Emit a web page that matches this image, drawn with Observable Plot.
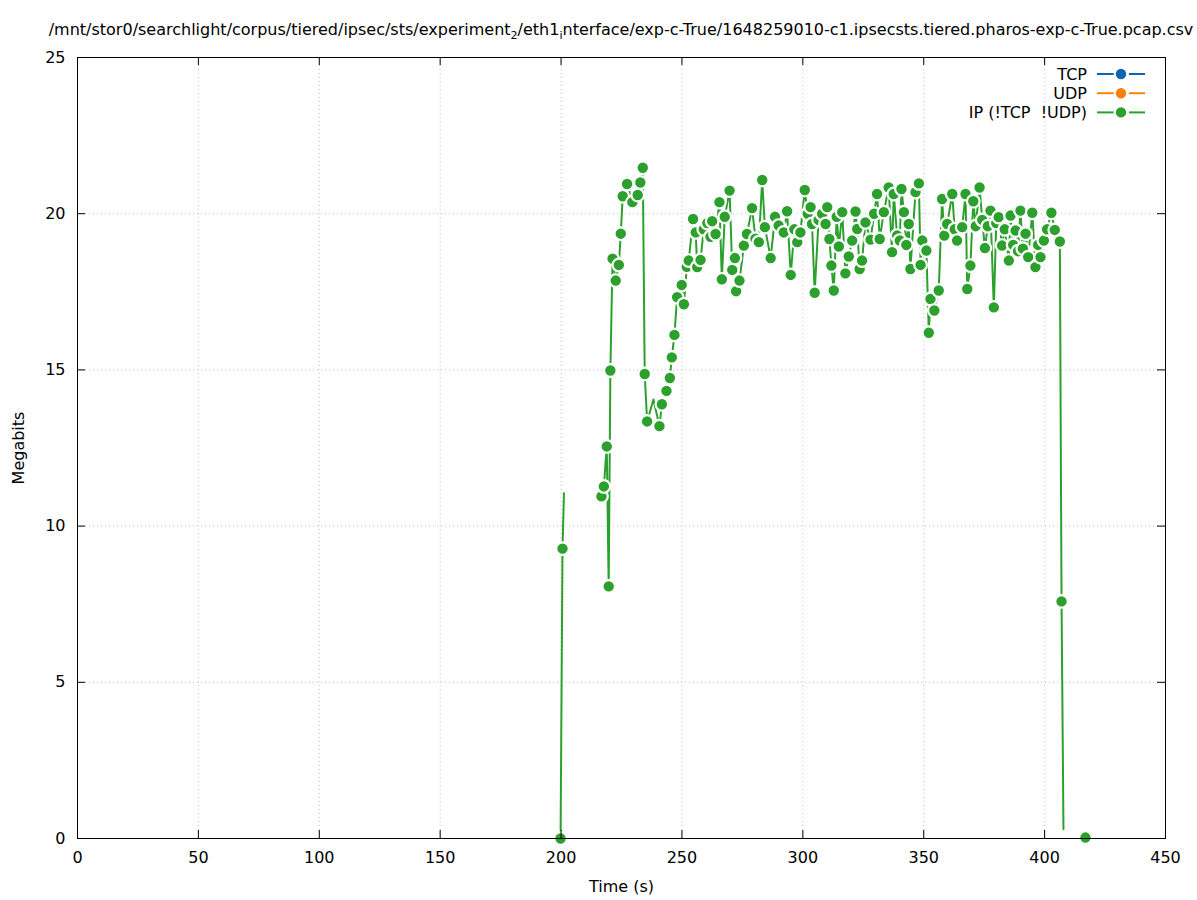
<!DOCTYPE html>
<html>
<head>
<meta charset="utf-8">
<script src="https://cdn.jsdelivr.net/npm/d3@7"></script>
<script src="https://cdn.jsdelivr.net/npm/@observablehq/plot@0.6"></script>
<style>
  html, body { margin: 0; padding: 0; background: #fff; }
  body { width: 1197px; height: 900px; position: relative; overflow: hidden; font-family: "DejaVu Sans", sans-serif; }
  #title { position: absolute; left: 621px; top: 20px; transform: translateX(-50%); white-space: nowrap; font-size: 16px; line-height: 20px; color: #000; }
  #title sub { font-size: 11px; vertical-align: -4px; line-height: 0; }
  #chart { position: absolute; left: 0; top: 47px; }
</style>
</head>
<body>
<div id="title">/mnt/stor0/searchlight/corpus/tiered/ipsec/sts/experiment<sub>2</sub>/eth1<sub>i</sub>nterface/exp-c-True/1648259010-c1.ipsecsts.tiered.pharos-exp-c-True.pcap.csv</div>
<div id="chart"></div>
<script>
// ---- data ----
const xTicks = [0, 50, 100, 150, 200, 250, 300, 350, 400, 450];
const yTicks = [0, 5, 10, 15, 20, 25];
const seriesNames = ["TCP", "UDP", "IP (!TCP  !UDP)"];
const seriesColors = ["#0c64b4", "#ff7f0e", "#2ca02c"];

// IP (!TCP !UDP) series: time (s) and megabits; null marks a gap in the line
const time = [
  199.8, 200.6, 201.2, 208,
  216.7, 217.7, 218.9, 219.7, 220.4, 221.3, 222.6, 223.9, 224.7, 225.5, 227.3, 229.5, 231.7, 232.8, 233.8,
  234.6, 235.6, 238.2, 240.7, 241.7, 243.6, 245.0, 245.8, 246.9, 248.0, 249.9, 250.8, 252.0, 252.8,
  254.6, 255.7, 256.3, 257.7, 259.0, 260.5, 261.8, 262.5, 263.9, 265.5, 266.5, 267.7, 269.7, 270.8,
  271.9, 272.4, 273.8, 275.6, 276.9, 279.0, 280.4, 281.8, 283.2, 284.3, 286.7, 288.5, 290.0, 292.1,
  293.5, 295.0, 296.5, 297.7, 299.0, 300.8, 302.0, 303.2, 303.8, 304.9, 306.5, 308.0, 309.4, 310.1,
  311.0, 311.8, 312.8, 314.0, 314.9, 316.3, 317.6, 319.0, 320.4, 321.8, 322.5, 323.5, 324.5, 325.9,
  328.0, 329.5, 330.7, 331.8, 333.5, 335.5, 336.9, 337.6, 339.0, 340.1, 340.8, 341.8, 342.8, 343.8,
  344.5, 346.6, 348.0, 348.7, 349.4, 351.1, 352.1, 352.8, 354.4, 356.2, 357.6, 358.5, 359.7, 361.8,
  362.8, 363.8, 365.9, 367.3, 368.0, 369.3, 370.5, 371.5, 373.1, 374.2, 375.3, 376.5, 377.6, 379.0,
  380.0, 381.0, 382.4, 383.5, 385.2, 385.9, 387.0, 388.0, 389.0, 390.0, 391.0, 392.1, 393.2, 394.9,
  396.2, 397.3, 398.3, 399.7, 401.0, 402.8, 404.2, 406.3, 407.0, 407.8, 412,
  416.9
];
const mbits = [
  0, 9.28, 11.05, null,
  10.95, 11.27, 12.55, 8.07, 14.98, 18.56, 17.86, 18.36, 19.36, 20.56, 20.95, 20.37, 20.6, 21.0, 21.47,
  14.87, 13.35, 14.05, 13.2, 13.9, 14.33, 14.74, 15.4, 16.12, 17.33, 17.72, 17.1, 18.3, 18.5,
  19.83, 19.4, 18.29, 18.52, 19.5, 19.7, 19.26, 19.76, 19.35, 20.37, 17.9, 19.9, 20.74, 18.2,
  18.58, 17.52, 17.86, 18.98, 19.35, 20.18, 19.2, 19.09, 21.08, 19.57, 18.58, 19.9, 19.62, 19.4,
  20.08, 18.04, 19.5, 19.09, 19.4, 20.76, 20.0, 20.21, 19.67, 17.47, 19.8, 20.0, 19.67, 20.21,
  19.19, 18.34, 17.54, 19.9, 18.95, 20.05, 18.09, 18.63, 19.14, 20.07, 19.51, 18.23, 18.5, 19.72,
  19.17, 20.0, 20.63, 19.19, 20.05, 20.84, 18.77, 20.63, 19.3, 19.14, 20.79, 20.05, 19.0, 19.67,
  18.23, 20.69, 20.97, 18.36, 19.14, 18.82, 16.19, 17.27, 16.9, 17.54, 20.47, 19.3, 19.67, 20.63,
  19.5, 19.14, 19.57, 20.63, 17.59, 18.34, 20.4, 19.6, 20.84, 19.8, 18.9, 19.6, 20.1, 17.0,
  19.7, 19.89, 18.98, 19.5, 18.5, 19.94, 19.0, 19.46, 18.8, 20.1, 18.88, 19.36, 18.61, 20.03,
  18.29, 19.0, 18.61, 19.14, 19.5, 20.03, 19.48, 19.11, 7.59, 0.3, null,
  0.03
];
// samples whose marker is hidden in the reference (only the line reaches them)
const hiddenMarkers = [201.2, 238.2, 407.8];

// ---- build ----
const rows = time.map((t, i) => ({t, v: mbits[i]}));
const dotRows = rows.filter(d => d.v != null && !hiddenMarkers.includes(d.t));

const W = 1197, H = 853;
const mL = 77, mR = 32, mT = 10, mB = 62;
const fw = W - mL - mR, fh = H - mT - mB;
const tick = 8;
const green = seriesColors[2];

const plot = Plot.plot({
  width: W, height: H,
  marginLeft: mL, marginRight: mR, marginTop: mT, marginBottom: mB,
  style: {fontFamily: "DejaVu Sans, sans-serif", fontSize: "16px", color: "#000", background: "#fff"},
  x: {domain: [0, 450], ticks: xTicks, label: null},
  y: {domain: [0, 25], ticks: yTicks, label: null},
  marks: [
    Plot.gridX(xTicks.slice(1, -1), {stroke: "#c4c4c4", strokeOpacity: 1, strokeDasharray: "1,3"}),
    Plot.gridY(yTicks.slice(1, -1), {stroke: "#c4c4c4", strokeOpacity: 1, strokeDasharray: "1,3"}),
    Plot.axisX({ticks: xTicks, tickSize: 0, tickPadding: 13, label: null, fontSize: 16}),
    Plot.axisY({ticks: yTicks, tickSize: 0, tickPadding: 12, label: null, fontSize: 16}),
    Plot.line(rows, {x: "t", y: "v", stroke: green, strokeWidth: 2, curve: "linear"}),
    Plot.dot(dotRows, {x: "t", y: "v", r: 6.3, fill: green, stroke: "#fff", strokeWidth: 2.2}),
    Plot.frame({stroke: "#000", strokeWidth: 1}),
    Plot.tickY(yTicks, {y: d => d, insetRight: fw - tick, stroke: "#000"}),
    Plot.tickY(yTicks, {y: d => d, insetLeft: fw - tick, stroke: "#000"}),
    Plot.tickX(xTicks, {x: d => d, insetTop: fh - tick, stroke: "#000"}),
    Plot.tickX(xTicks, {x: d => d, insetBottom: fh - tick, stroke: "#000"}),
    Plot.text(["Time (s)"], {text: d => d, frameAnchor: "bottom", dy: 48, lineAnchor: "middle", fontSize: 16}),
    Plot.text(["Megabits"], {text: d => d, frameAnchor: "left", dx: -59, rotate: -90, lineAnchor: "middle", textAnchor: "middle", fontSize: 16})
  ]
});
document.getElementById("chart").appendChild(plot);

// legend (inside the plot, top right, gnuplot style)
const svg = d3.select(plot);
const lg = svg.append("g").attr("font-family", "DejaVu Sans, sans-serif").attr("font-size", 16);
const right = mL + fw;
seriesNames.forEach((name, i) => {
  const y = mT + 17 + i * 19.2;
  const c = seriesColors[i];
  lg.append("text").attr("x", right - 78).attr("y", y).attr("text-anchor", "end")
    .attr("dy", "0.35em").attr("fill", "#000").text(name);
  lg.append("line").attr("x1", right - 68).attr("x2", right - 51).attr("y1", y).attr("y2", y)
    .attr("stroke", c).attr("stroke-width", 2);
  lg.append("line").attr("x1", right - 36).attr("x2", right - 20).attr("y1", y).attr("y2", y)
    .attr("stroke", c).attr("stroke-width", 2);
  lg.append("circle").attr("cx", right - 44).attr("cy", y).attr("r", 6.3)
    .attr("fill", c).attr("stroke", "#fff").attr("stroke-width", 2.2);
});
</script>
</body>
</html>
